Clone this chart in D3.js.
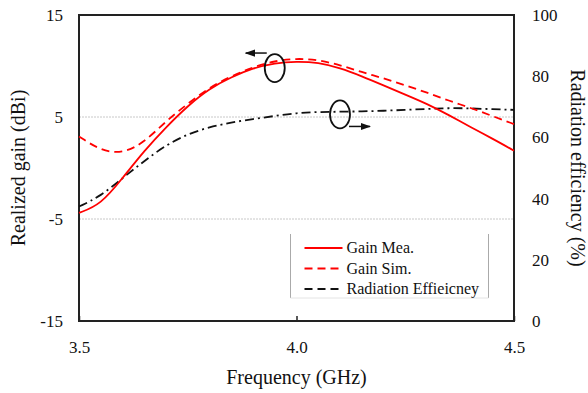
<!DOCTYPE html>
<html>
<head>
<meta charset="utf-8">
<title>gain</title>
<script src="https://cdn.jsdelivr.net/npm/d3@7"></script>
<style>
  body { margin: 0; background: #fff; }
  svg text { font-family: 'Liberation Serif', 'DejaVu Serif', 'Times New Roman', serif !important; }
</style>
</head>
<body>
<script>
// data
const freq = [3.5, 3.55, 3.6, 3.65, 3.7, 3.75, 3.8, 3.85, 3.9, 3.95, 4.0, 4.05, 4.1, 4.15, 4.2, 4.25, 4.3, 4.35, 4.4, 4.45, 4.5];
const gainMea = [-4.4, -3.6, -1.0, 1.7, 4.0, 6.1, 7.8, 8.9, 9.8, 10.3, 10.45, 10.35, 9.8, 9.0, 8.1, 7.2, 6.3, 5.2, 4.0, 2.9, 1.7];
const gainSim = [3.1, 1.7, 1.4, 2.5, 4.6, 6.3, 7.9, 9.0, 9.9, 10.5, 10.75, 10.6, 10.1, 9.4, 8.8, 8.1, 7.4, 6.6, 5.9, 5.1, 4.3];
const radEff = [37.4, 40.8, 46.7, 52.3, 57.5, 61.1, 63.4, 64.9, 66.0, 67.0, 68.0, 68.3, 68.4, 68.5, 68.7, 69.0, 69.3, 69.6, 69.5, 69.2, 69.0];

const xTicks = [3.5, 4.0, 4.5];
const gainTicks = [-15, -5, 5, 15];
const effTicks = [0, 20, 40, 60, 80, 100];
const gridGain = [-5, 5];
const legendNames = ["Gain Mea.", "Gain Sim.", "Radiation Effieicney"];

const FONT = "'Liberation Serif', 'DejaVu Serif', 'Times New Roman', serif";
const W = 588, H = 393;
const margin = { top: 15, right: 74, bottom: 72, left: 79 };
const w = W - margin.left - margin.right;
const h = H - margin.top - margin.bottom;

const svg = d3.select("body").append("svg")
  .attr("width", W).attr("height", H)
  .style("font-family", FONT);
const g = svg.append("g")
  .attr("transform", "translate(" + margin.left + "," + margin.top + ")");

const x = d3.scaleLinear().domain([3.5, 4.5]).range([0, w]);
const yG = d3.scaleLinear().domain([-15, 15]).range([h, 0]);
const yE = d3.scaleLinear().domain([0, 100]).range([h, 0]);

// grid
g.selectAll(".grid").data(gridGain).enter().append("line")
  .attr("x1", 0).attr("x2", w)
  .attr("y1", d => yG(d)).attr("y2", d => yG(d))
  .attr("stroke", "#c8c8c8").attr("stroke-width", 1)
  .attr("stroke-dasharray", "2,1");

// axes
const xAxis = d3.axisBottom(x).tickValues(xTicks).tickFormat(d3.format(".1f")).tickSize(-5).tickPadding(20);
const gx = g.append("g").attr("transform", "translate(0," + h + ")").call(xAxis);
const yAxisL = d3.axisLeft(yG).tickValues(gainTicks).tickFormat(d => String(d)).tickSize(0).tickPadding(16);
const gyl = g.append("g").call(yAxisL);
const yAxisR = d3.axisRight(yE).tickValues(effTicks).tickFormat(d => String(d)).tickSize(0).tickPadding(18);
const gyr = g.append("g").attr("transform", "translate(" + w + ",0)").call(yAxisR);
[gx, gyl, gyr].forEach(a => {
  a.attr("font-family", null).attr("font-size", 17);
  a.select(".domain").remove();
  a.selectAll("text").attr("fill", "#111").style("font-family", FONT);
  a.selectAll("line").attr("stroke", "#222").attr("stroke-width", 1.5);
});

// frame
g.append("rect").attr("x", 0).attr("y", 0).attr("width", w).attr("height", h)
  .attr("fill", "none").attr("stroke", "#222").attr("stroke-width", 2);

// lines
const lineG = d3.line().x((d, i) => x(freq[i])).y(d => yG(d)).curve(d3.curveBasis);
const lineE = d3.line().x((d, i) => x(freq[i])).y(d => yE(d)).curve(d3.curveBasis);

g.append("path").datum(radEff).attr("d", lineE)
  .attr("fill", "none").attr("stroke", "#111").attr("stroke-width", 1.8)
  .attr("stroke-dasharray", "9,4,2,4");
g.append("path").datum(gainSim).attr("d", lineG)
  .attr("fill", "none").attr("stroke", "#f00").attr("stroke-width", 1.8)
  .attr("stroke-dasharray", "8,5");
g.append("path").datum(gainMea).attr("d", lineG)
  .attr("fill", "none").attr("stroke", "#f00").attr("stroke-width", 1.8);

// annotation ellipses with arrows
svg.append("defs").append("marker").attr("id", "arr")
  .attr("viewBox", "0 0 10 10").attr("refX", 9).attr("refY", 5)
  .attr("markerWidth", 7).attr("markerHeight", 7).attr("orient", "auto")
  .append("path").attr("d", "M0,1.5L10,5L0,8.5z").attr("fill", "#111");

const ann = [
  { f: 3.95, v: 9.8, axis: yG, side: "top", dir: -1 },
  { f: 4.1, v: 67.5, axis: yE, side: "bottom", dir: 1 }
];
ann.forEach(a => {
  const cx = x(a.f), cy = a.axis(a.v);
  g.append("ellipse").attr("cx", cx).attr("cy", cy).attr("rx", 10).attr("ry", 14)
    .attr("fill", "none").attr("stroke", "#111").attr("stroke-width", 1.8);
  const ay = a.side === "top" ? cy - 15 : cy + 12;
  const ax = a.dir < 0 ? cx - 8 : cx + 9;
  g.append("line").attr("x1", ax).attr("y1", ay).attr("x2", ax + a.dir * 21).attr("y2", ay)
    .attr("stroke", "#111").attr("stroke-width", 1.5).attr("marker-end", "url(#arr)");
});

// legend
const lg = g.append("g").attr("transform", "translate(" + (x(4.0) - 6) + "," + (yG(-5) + 15) + ")");
lg.append("line").attr("x1", 0).attr("x2", 0).attr("y1", 0).attr("y2", 64).attr("stroke", "#aaa");
lg.append("line").attr("x1", 198).attr("x2", 198).attr("y1", 0).attr("y2", 64).attr("stroke", "#aaa");
lg.append("line").attr("x1", 0).attr("x2", 198).attr("y1", 64).attr("y2", 64).attr("stroke", "#e4e4e4");
const legStyle = [
  { c: "#f00", d: null },
  { c: "#f00", d: "8,5" },
  { c: "#111", d: "8,5" }
];
legendNames.forEach((n, i) => {
  const yy = 14 + i * 20.5;
  lg.append("line").attr("x1", 14).attr("x2", 52).attr("y1", yy).attr("y2", yy)
    .attr("stroke", legStyle[i].c).attr("stroke-width", 1.8)
    .attr("stroke-dasharray", legStyle[i].d);
  lg.append("text").attr("x", 56).attr("y", yy + 5).attr("font-size", 16)
    .attr("fill", "#111").text(n);
});

// axis titles
svg.append("text").attr("transform", "translate(25," + (margin.top + h / 2) + ") rotate(-90)")
  .attr("text-anchor", "middle").attr("font-size", 20).attr("fill", "#111").text("Realized gain (dBi)");
svg.append("text").attr("transform", "translate(571," + (margin.top + h / 2) + ") rotate(90)")
  .attr("text-anchor", "middle").attr("font-size", 20).attr("fill", "#111").text("Radiation efficiency (%)");
svg.append("text").attr("x", margin.left + w / 2).attr("y", 384)
  .attr("text-anchor", "middle").attr("font-size", 20).attr("fill", "#111").text("Frequency (GHz)");
</script>
</body>
</html>
